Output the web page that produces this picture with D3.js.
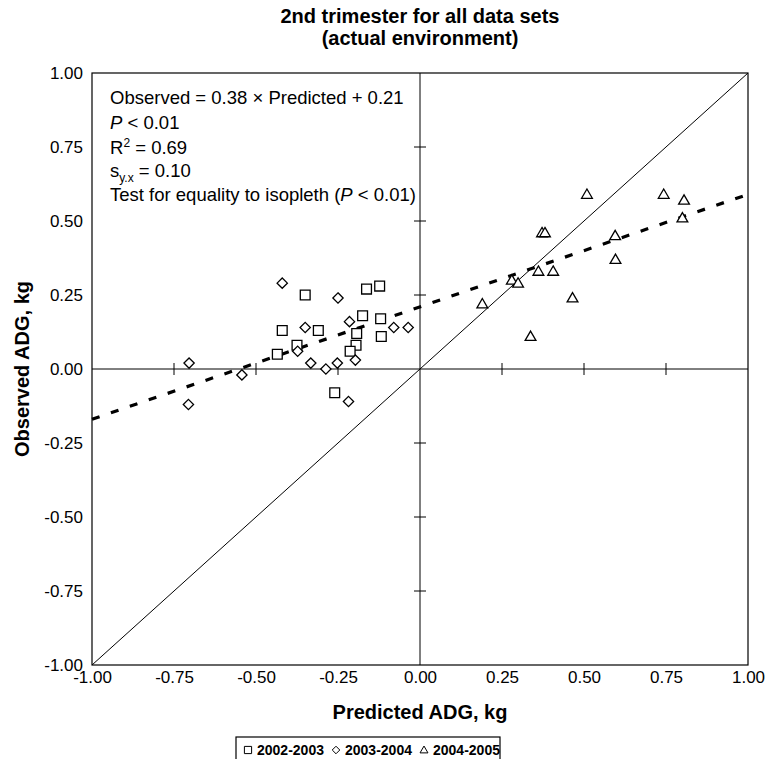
<!DOCTYPE html>
<html>
<head>
<meta charset="utf-8">
<script src="https://cdn.jsdelivr.net/npm/d3@7"></script>
<style>
  body { margin: 0; background: #fff; }
  svg { display: block; font-family: Arial, "Liberation Sans", sans-serif; }
</style>
</head>
<body>
<div id="chart"></div>
<script>
// ---- data (Predicted, Observed ADG in kg) ----
const seasons = ['2002-2003', '2003-2004', '2004-2005'];
const shapes = ['square', 'diamond', 'triangle'];

const pts0203 = [
  [-0.42, 0.13], [-0.435, 0.05], [-0.35, 0.25], [-0.163, 0.27], [-0.123, 0.28],
  [-0.31, 0.13], [-0.175, 0.18], [-0.12, 0.17], [-0.118, 0.11], [-0.193, 0.12],
  [-0.375, 0.08], [-0.195, 0.08], [-0.213, 0.06], [-0.26, -0.08]
];
const pts0304 = [
  [-0.42, 0.29], [-0.704, 0.02], [-0.543, -0.02], [-0.706, -0.12], [-0.25, 0.24],
  [-0.35, 0.14], [-0.215, 0.16], [-0.08, 0.14], [-0.036, 0.14], [-0.373, 0.06],
  [-0.197, 0.03], [-0.333, 0.02], [-0.287, 0.0], [-0.252, 0.02], [-0.218, -0.11]
];
const pts0405 = [
  [0.509, 0.59], [0.372, 0.46], [0.381, 0.46], [0.361, 0.33], [0.406, 0.33],
  [0.28, 0.30], [0.299, 0.29], [0.19, 0.22], [0.465, 0.24], [0.337, 0.11],
  [0.743, 0.59], [0.805, 0.57], [0.80, 0.51], [0.595, 0.45], [0.596, 0.37]
];
const seriesPts = [pts0203, pts0304, pts0405];

const ticks = [-1, -0.75, -0.5, -0.25, 0, 0.25, 0.5, 0.75, 1];
const slope = 0.38, intercept = 0.21;

// ---- layout ----
const W = 766, H = 759;
const margin = { top: 73, left: 92, right: 18, bottom: 94 };
const w = W - margin.left - margin.right;
const h = H - margin.top - margin.bottom;

const svg = d3.select('#chart').append('svg')
  .attr('width', W).attr('height', H);

const g = svg.append('g')
  .attr('transform', `translate(${margin.left},${margin.top})`);

const x = d3.scaleLinear().domain([-1, 1]).range([0, w]);
const y = d3.scaleLinear().domain([-1, 1]).range([h, 0]);
const fmt = d => d.toFixed(2);

// ---- title ----
svg.append('text')
  .attr('x', margin.left + w / 2).attr('y', 23)
  .attr('text-anchor', 'middle')
  .style('font-size', '20px').style('font-weight', 'bold')
  .text('2nd trimester for all data sets');
svg.append('text')
  .attr('x', margin.left + w / 2).attr('y', 45)
  .attr('text-anchor', 'middle')
  .style('font-size', '20px').style('font-weight', 'bold')
  .text('(actual environment)');

// ---- frame ----
g.append('rect')
  .attr('x', 0).attr('y', 0).attr('width', w).attr('height', h)
  .attr('fill', 'none').attr('stroke', '#000').attr('stroke-width', 1.2);

// ---- zero axes ----
g.append('line')
  .attr('x1', x(-1)).attr('x2', x(1)).attr('y1', y(0)).attr('y2', y(0))
  .attr('stroke', '#000');
g.append('line')
  .attr('x1', x(0)).attr('x2', x(0)).attr('y1', y(-1)).attr('y2', y(1))
  .attr('stroke', '#000');

// cross ticks on the zero axes
const inner = ticks.filter(t => t !== 0 && Math.abs(t) !== 1);
g.selectAll('.xt').data(inner).join('line')
  .attr('x1', d => x(d)).attr('x2', d => x(d))
  .attr('y1', y(0) - 6).attr('y2', y(0) + 6)
  .attr('stroke', '#000');
g.selectAll('.yt').data(inner).join('line')
  .attr('y1', d => y(d)).attr('y2', d => y(d))
  .attr('x1', x(0) - 6).attr('x2', x(0) + 6)
  .attr('stroke', '#000');

// ---- tick labels ----
g.append('g')
  .call(d3.axisLeft(y).tickValues(ticks).tickFormat(fmt).tickSize(0).tickPadding(9))
  .call(a => a.select('.domain').remove())
  .call(a => a.selectAll('text')
    .style('font-size', '17px').style('fill', '#000')
    .style('font-family', 'Arial, "Liberation Sans", sans-serif'));

g.append('g')
  .attr('transform', `translate(0,${h})`)
  .call(d3.axisBottom(x).tickValues(ticks).tickFormat(fmt).tickSize(0).tickPadding(6))
  .call(a => a.select('.domain').remove())
  .call(a => a.selectAll('text')
    .style('font-size', '17px').style('fill', '#000')
    .style('font-family', 'Arial, "Liberation Sans", sans-serif'));

// ---- axis titles ----
svg.append('text')
  .attr('x', margin.left + w / 2).attr('y', 719)
  .attr('text-anchor', 'middle')
  .style('font-size', '20px').style('font-weight', 'bold')
  .text('Predicted ADG, kg');
svg.append('text')
  .attr('transform', `translate(29,${margin.top + h / 2}) rotate(-90)`)
  .attr('text-anchor', 'middle')
  .style('font-size', '20px').style('font-weight', 'bold')
  .text('Observed ADG, kg');

// ---- isopleth and regression line ----
g.append('line')
  .attr('x1', x(-1)).attr('y1', y(-1)).attr('x2', x(1)).attr('y2', y(1))
  .attr('stroke', '#000').attr('stroke-width', 1);

const line = d3.line().x(d => x(d)).y(d => y(slope * d + intercept));
g.append('path')
  .datum([-1, 1])
  .attr('d', line)
  .attr('fill', 'none').attr('stroke', '#000')
  .attr('stroke-width', 3.2).attr('stroke-dasharray', '8,12');

// ---- markers ----
function shapePath(kind, s) {
  if (kind === 'square') return `M${-s},${-s}H${s}V${s}H${-s}Z`;
  if (kind === 'diamond') return `M0,${-s * 1.05}L${s * 1.05},0L0,${s * 1.05}L${-s * 1.05},0Z`;
  return `M0,${-s * 1.1}L${s * 1.1},${s * 0.8}L${-s * 1.1},${s * 0.8}Z`;
}

seriesPts.forEach((pts, i) => {
  g.selectAll('.m' + i).data(pts).join('path')
    .attr('class', 'm' + i)
    .attr('transform', d => `translate(${x(d[0])},${y(d[1])})`)
    .attr('d', shapePath(shapes[i], 4.9))
    .attr('fill', '#fff').attr('stroke', '#000').attr('stroke-width', 1.3);
});

// ---- regression annotation ----
const ann = svg.append('g').style('font-size', '18.5px');
const annX = 110;
let t = ann.append('text').attr('x', annX).attr('y', 104);
t.text('Observed = 0.38 × Predicted + 0.21');
t = ann.append('text').attr('x', annX).attr('y', 129);
t.append('tspan').style('font-style', 'italic').text('P');
t.append('tspan').text(' < 0.01');
t = ann.append('text').attr('x', annX).attr('y', 154);
t.append('tspan').text('R');
t.append('tspan').attr('dy', -7).style('font-size', '12px').text('2');
t.append('tspan').attr('dy', 7).text(' = 0.69');
t = ann.append('text').attr('x', annX).attr('y', 177);
t.append('tspan').text('s');
t.append('tspan').attr('dy', 5).style('font-size', '12px').text('y.x');
t.append('tspan').attr('dy', -5).text(' = 0.10');
t = ann.append('text').attr('x', annX).attr('y', 201);
t.append('tspan').text('Test for equality to isopleth (');
t.append('tspan').style('font-style', 'italic').text('P');
t.append('tspan').text(' < 0.01)');

// ---- legend ----
const lg = svg.append('g').attr('transform', 'translate(236,737)');
lg.append('rect')
  .attr('x', 0).attr('y', 0).attr('width', 264).attr('height', 30)
  .attr('fill', '#fff').attr('stroke', '#000').attr('stroke-width', 1.2);
const lgX = [12, 100, 188];
seasons.forEach((s, i) => {
  lg.append('path')
    .attr('transform', `translate(${lgX[i]},13)`)
    .attr('d', shapePath(shapes[i], 3.6))
    .attr('fill', '#fff').attr('stroke', '#000').attr('stroke-width', 1);
  lg.append('text')
    .attr('x', lgX[i] + 9).attr('y', 18)
    .style('font-size', '14px').style('font-weight', 'bold')
    .text(s);
});
</script>
</body>
</html>
